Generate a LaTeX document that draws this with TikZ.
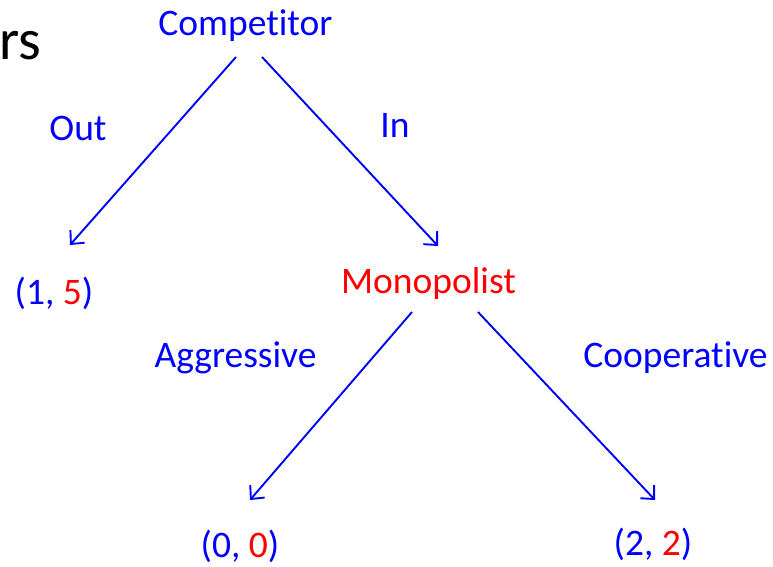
\documentclass[tikz,border=0pt]{standalone}
\usepackage{fontspec}
\setmainfont{Carlito}[Ligatures=NoCommon]
\usetikzlibrary{arrows.meta}
\definecolor{pblue}{RGB}{0,0,255}
\definecolor{pred}{RGB}{255,0,0}
\tikzset{
  lbl/.style={inner sep=0pt, font=\fontsize{37.5}{44}\selectfont, text=pblue},
  mono/.style={lbl, text=pred},
  edge/.style={draw=pblue, line width=1.9pt, -{Straight Barb[length=10pt,width=19pt,line width=1.9pt]}}
}
\begin{document}
\begin{tikzpicture}[x=1pt,y=-1pt]
\useasboundingbox (0,0) rectangle (773,567);
\node[inner sep=0pt, font=\fontsize{58}{64}\selectfont, text=black, anchor=base west] (rs) at (-1,60) {rs};
\node[lbl, anchor=base] (comp) at (245.5,36) {Competitor};
\node[lbl, anchor=base] (out) at (78,140) {Out};
\node[lbl, anchor=base] (in) at (395,138) {In};
\node[lbl, anchor=base] (p15) at (54,304) {(1, \textcolor{pred}{5})};
\node[mono, anchor=base] (mono) at (428.5,293) {Monopolist};
\node[lbl, anchor=base] (agg) at (235.5,367) {Aggressive};
\node[lbl, anchor=base] (coop) at (675.5,367) {Cooperative};
\node[lbl, anchor=base] (p00) at (240,557) {(0, \textcolor{pred}{0})};
\node[lbl, anchor=base] (p22) at (653,555) {(2, \textcolor{pred}{2})};
\coordinate (c1) at (236,57);
\coordinate (c2) at (262,57);
\coordinate (m1) at (412,312);
\coordinate (m2) at (478,312);
\coordinate (e1) at (70,245);
\coordinate (e2) at (438,246);
\coordinate (e3) at (250,500);
\coordinate (e4) at (655,500);
\draw[edge] (c1) -- (e1);
\draw[edge] (c2) -- (e2);
\draw[edge] (m1) -- (e3);
\draw[edge] (m2) -- (e4);
\end{tikzpicture}
\end{document}
